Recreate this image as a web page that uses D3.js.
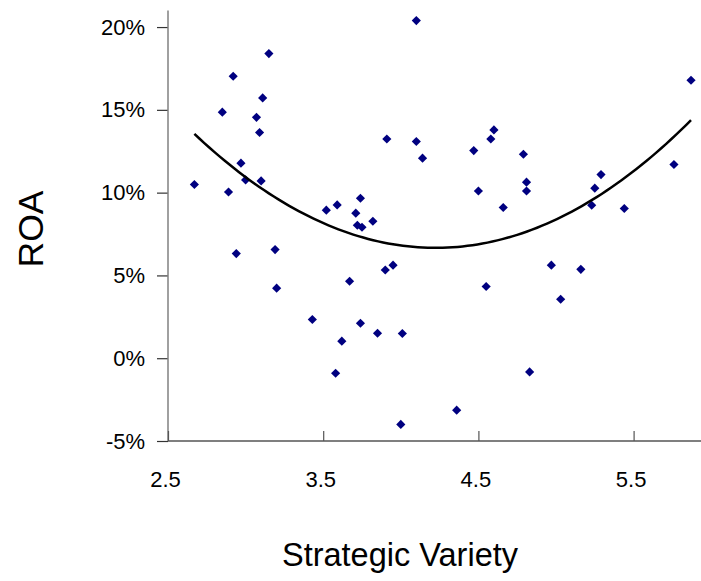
<!DOCTYPE html>
<html>
<head>
<meta charset="utf-8">
<script src="https://cdn.jsdelivr.net/npm/d3@7"></script>
<style>
  html, body { margin: 0; padding: 0; background: #fff; }
  svg { display: block; font-family: "Liberation Sans", Arial, sans-serif; }
</style>
</head>
<body>
<div id="chart"></div>
<script>
// Strategic variety (x) of each firm
const strategicVariety = [
    2.67, 2.85, 2.89, 2.92, 2.94, 2.97, 3.00, 3.07, 3.09, 3.11,
    3.10, 3.15, 3.19, 3.20, 3.43, 3.52, 3.58, 3.59, 3.62, 3.67,
    3.71, 3.72, 3.74, 3.75, 3.74, 3.82, 3.85, 3.90, 3.91, 3.95,
    4.00, 4.01, 4.10, 4.10, 4.14, 4.36, 4.47, 4.50, 4.55, 4.58,
    4.60, 4.66, 4.79, 4.81, 4.81, 4.83, 4.97, 5.03, 5.16, 5.23,
    5.25, 5.29, 5.44, 5.76, 5.87,
];

// ROA of each firm (fraction)
const roa = [
    0.1049, 0.1486, 0.1004, 0.1703, 0.0632, 0.1178, 0.1077, 0.1455, 0.1363, 0.1572,
    0.1071, 0.1840, 0.0656, 0.0423, 0.0234, 0.0894, -0.0091, 0.0926, 0.0103, 0.0465,
    0.0876, 0.0803, 0.0966, 0.0791, 0.0211, 0.0827, 0.0151, 0.0533, 0.1324, 0.0562,
    -0.0400, 0.0149, 0.2039, 0.1309, 0.1208, -0.0314, 0.1254, 0.1010, 0.0433, 0.1324,
    0.1379, 0.0910, 0.1232, 0.1063, 0.1010, -0.0083, 0.0562, 0.0356, 0.0537, 0.0924,
    0.1027, 0.1109, 0.0904, 0.1170, 0.1679,
];

const xTicks = [2.5, 3.5, 4.5, 5.5];
const xTickLabels = ["2.5", "3.5", "4.5", "5.5"];
const yTicks = [-0.05, 0, 0.05, 0.1, 0.15, 0.2];
const yTickLabels = ["-5%", "0%", "5%", "10%", "15%", "20%"];

const xTitle = "Strategic Variety";
const yTitle = "ROA";

const width = 701;
const height = 581;

const points = strategicVariety.map((x, i) => ({ x, y: roa[i] }));

/**
 * Least squares fit of y = c0 + c1 x + c2 x^2 (the polynomial trendline)
 */
const fitQuadratic = (data) => {
    const s = [0, 0, 0, 0, 0];
    const t = [0, 0, 0];
    data.forEach((d) => {
        for (let k = 0; k < 5; k++) s[k] += Math.pow(d.x, k);
        for (let k = 0; k < 3; k++) t[k] += d.y * Math.pow(d.x, k);
    });
    const m = [
        [s[0], s[1], s[2], t[0]],
        [s[1], s[2], s[3], t[1]],
        [s[2], s[3], s[4], t[2]],
    ];
    // gaussian elimination
    for (let i = 0; i < 3; i++) {
        for (let j = i + 1; j < 3; j++) {
            const f = m[j][i] / m[i][i];
            for (let k = i; k < 4; k++) m[j][k] -= f * m[i][k];
        }
    }
    const c = [0, 0, 0];
    for (let i = 2; i >= 0; i--) {
        let v = m[i][3];
        for (let k = i + 1; k < 3; k++) v -= m[i][k] * c[k];
        c[i] = v / m[i][i];
    }
    return (x) => c[0] + c[1] * x + c[2] * x * x;
};

const x = d3.scaleLinear().domain([2.5, 6]).range([168, 711.2]);
const y = d3.scaleLinear().domain([-0.05, 0.21]).range([441, 10.5]);

const svg = d3
    .select("#chart")
    .append("svg")
    .attr("width", width)
    .attr("height", height);

// y axis
const yAxis = svg
    .append("g")
    .attr("transform", `translate(${x(2.5)},0)`)
    .call(
        d3
            .axisLeft(y)
            .tickValues(yTicks)
            .tickFormat((d, i) => yTickLabels[i])
            .tickSize(11)
            .tickPadding(12)
            .tickSizeOuter(0),
    );
yAxis.select(".domain").remove();
yAxis
    .append("line")
    .attr("y1", y.range()[1])
    .attr("y2", y.range()[0])
    .attr("stroke", "#808080")
    .attr("stroke-width", 1.5);
yAxis.selectAll(".tick line").attr("stroke", "#333").attr("stroke-width", 1.2);
yAxis
    .selectAll(".tick text")
    .attr("fill", "#000")
    .attr("font-size", 22)
    .attr("font-family", "Liberation Sans, Arial, sans-serif");

// x axis
const xAxis = svg
    .append("g")
    .attr("transform", `translate(0,${y(-0.05)})`)
    .call(
        d3
            .axisBottom(x)
            .tickValues(xTicks)
            .tickFormat((d, i) => xTickLabels[i])
            .tickSize(-10)
            .tickPadding(30)
            .tickSizeOuter(0),
    );
xAxis.select(".domain").remove();
xAxis
    .append("line")
    .attr("x1", x.range()[0])
    .attr("x2", x.range()[1])
    .attr("stroke", "#555")
    .attr("stroke-width", 1.5);
xAxis.selectAll(".tick line").attr("stroke", "#555").attr("stroke-width", 1.2);
xAxis
    .selectAll(".tick text")
    .attr("fill", "#000")
    .attr("dx", -3)
    .attr("font-size", 22)
    .attr("font-family", "Liberation Sans, Arial, sans-serif");

// points
svg.append("g")
    .selectAll("path")
    .data(points)
    .join("path")
    .attr("d", d3.symbol(d3.symbolSquare, 42))
    .attr("transform", (d) => `translate(${x(d.x)},${y(d.y)}) rotate(45)`)
    .attr("fill", "#000080");

// trendline
const trend = fitQuadratic(points);
const [xMin, xMax] = d3.extent(strategicVariety);
const trendData = d3.range(0, 101).map((i) => {
    const xv = xMin + ((xMax - xMin) * i) / 100;
    return { x: xv, y: trend(xv) };
});
svg.append("path")
    .datum(trendData)
    .attr("fill", "none")
    .attr("stroke", "#000")
    .attr("stroke-width", 2.5)
    .attr("d", d3.line().x((d) => x(d.x)).y((d) => y(d.y)));

// axis titles
svg.append("text")
    .attr("x", 400)
    .attr("y", 566)
    .attr("text-anchor", "middle")
    .attr("font-size", 32.5)
    .text(xTitle);

svg.append("text")
    .attr("transform", "translate(43,229) rotate(-90)")
    .attr("text-anchor", "middle")
    .attr("font-size", 35.5)
    .text(yTitle);
</script>
</body>
</html>
